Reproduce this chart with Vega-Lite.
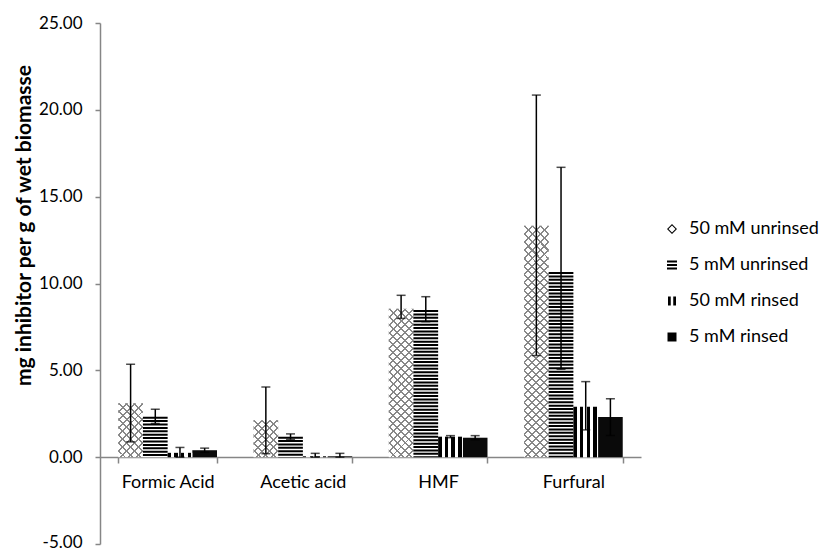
{
  "$schema": "https://vega.github.io/schema/vega-lite/v6.json",
  "width": 541,
  "height": 521,
  "autosize": {"type": "none"},
  "padding": {"left": 100, "top": 23, "right": 182, "bottom": 7},
  "background": "white",
  "config": {"view": {"stroke": null}, "font": "Lato"},
  "data": {
    "values": [
      {"category": "Formic Acid", "series": "50 mM unrinsed", "value": 3.1, "lo": 0.88, "hi": 5.35},
      {"category": "Formic Acid", "series": "5 mM unrinsed", "value": 2.33, "lo": 1.94, "hi": 2.76},
      {"category": "Formic Acid", "series": "50 mM rinsed", "value": 0.25, "lo": 0.0, "hi": 0.56},
      {"category": "Formic Acid", "series": "5 mM rinsed", "value": 0.4, "lo": 0.28, "hi": 0.52},
      {"category": "Acetic acid", "series": "50 mM unrinsed", "value": 2.12, "lo": 0.2, "hi": 4.04},
      {"category": "Acetic acid", "series": "5 mM unrinsed", "value": 1.18, "lo": 1.02, "hi": 1.34},
      {"category": "Acetic acid", "series": "50 mM rinsed", "value": 0.05, "lo": 0.0, "hi": 0.22},
      {"category": "Acetic acid", "series": "5 mM rinsed", "value": 0.05, "lo": 0.0, "hi": 0.22},
      {"category": "HMF", "series": "50 mM unrinsed", "value": 8.55, "lo": 7.99, "hi": 9.32},
      {"category": "HMF", "series": "5 mM unrinsed", "value": 8.47, "lo": 7.8, "hi": 9.24},
      {"category": "HMF", "series": "50 mM rinsed", "value": 1.18, "lo": 1.12, "hi": 1.24},
      {"category": "HMF", "series": "5 mM rinsed", "value": 1.12, "lo": 1.0, "hi": 1.24},
      {"category": "Furfural", "series": "50 mM unrinsed", "value": 13.33, "lo": 5.85, "hi": 20.85},
      {"category": "Furfural", "series": "5 mM unrinsed", "value": 10.66, "lo": 5.06, "hi": 16.69},
      {"category": "Furfural", "series": "50 mM rinsed", "value": 2.91, "lo": 1.57, "hi": 4.35},
      {"category": "Furfural", "series": "5 mM rinsed", "value": 2.31, "lo": 1.25, "hi": 3.37}
    ]
  },
  "encoding": {
    "x": {
      "field": "category",
      "type": "nominal",
      "title": null,
      "scale": {"domain": ["Formic Acid", "Acetic acid", "HMF", "Furfural"], "paddingInner": 0.27, "paddingOuter": 0.135},
      "axis": {
        "orient": "bottom",
        "offset": -87,
        "tickBand": "extent",
        "tickSize": 6,
        "domainColor": "#868686",
        "tickColor": "#868686",
        "domainWidth": 1.5,
        "tickWidth": 1.5,
        "labelAngle": 0,
        "labelFont": "Lato",
        "labelFontSize": 18,
        "labelColor": "#000000",
        "labelPadding": 10
      }
    },
    "xOffset": {
      "field": "series",
      "type": "nominal",
      "scale": {"domain": ["50 mM unrinsed", "5 mM unrinsed", "50 mM rinsed", "5 mM rinsed"], "paddingInner": 0, "paddingOuter": 0}
    },
    "y": {
      "field": "value",
      "type": "quantitative",
      "title": "mg inhibitor per g of wet biomasse",
      "scale": {"domain": [-5, 25], "nice": false, "zero": false},
      "axis": {
        "values": [-5, 0, 5, 10, 15, 20, 25],
        "format": ".2f",
        "labelExpr": "replace(datum.label, '\u2212', '-')",
        "labelOffset": {"condition": {"test": "datum.value === -5", "value": -2}, "value": 0},
        "grid": false,
        "domainColor": "#868686",
        "tickColor": "#868686",
        "domainWidth": 1.5,
        "tickWidth": 1.5,
        "tickSize": 5,
        "labelPadding": 13,
        "labelFont": "Lato",
        "labelFontSize": 17,
        "labelColor": "#000000",
        "titleFont": "Lato",
        "titleFontSize": 21,
        "titleFontWeight": "bold",
        "titleColor": "#000000",
        "titleAngle": -90,
        "titleX": -76,
        "titleY": 202,
        "titleAlign": "center",
        "titleBaseline": "middle"
      }
    }
  },
  "layer": [
    {
      "mark": {"type": "bar", "fill": "#ffffff"},
      "encoding": {"y2": {"datum": 0}}
    },
    {
      "transform": [{"filter": "datum.series === '5 mM rinsed'"}],
      "mark": {"type": "bar", "fill": "#0a0a0a"},
      "encoding": {"y2": {"datum": 0}}
    },
    {
      "transform": [{"filter": "datum.series === '50 mM unrinsed' && datum.category === 'Formic Acid'"}],
      "mark": {"type": "bar", "fill": {"gradient": "linear", "x1": 0, "y1": 0, "x2": 0.551, "y2": 1.205, "stops": [
        {"offset": 0, "color": "#888"}, {"offset": 0.025, "color": "#888"}, {"offset": 0.025, "color": "rgba(136,136,136,0)"}, {"offset": 0.1, "color": "rgba(136,136,136,0)"},
        {"offset": 0.1, "color": "#888"}, {"offset": 0.125, "color": "#888"}, {"offset": 0.125, "color": "rgba(136,136,136,0)"}, {"offset": 0.2, "color": "rgba(136,136,136,0)"},
        {"offset": 0.2, "color": "#888"}, {"offset": 0.225, "color": "#888"}, {"offset": 0.225, "color": "rgba(136,136,136,0)"}, {"offset": 0.3, "color": "rgba(136,136,136,0)"},
        {"offset": 0.3, "color": "#888"}, {"offset": 0.325, "color": "#888"}, {"offset": 0.325, "color": "rgba(136,136,136,0)"}, {"offset": 0.4, "color": "rgba(136,136,136,0)"},
        {"offset": 0.4, "color": "#888"}, {"offset": 0.425, "color": "#888"}, {"offset": 0.425, "color": "rgba(136,136,136,0)"}, {"offset": 0.5, "color": "rgba(136,136,136,0)"},
        {"offset": 0.5, "color": "#888"}, {"offset": 0.525, "color": "#888"}, {"offset": 0.525, "color": "rgba(136,136,136,0)"}, {"offset": 0.6, "color": "rgba(136,136,136,0)"},
        {"offset": 0.6, "color": "#888"}, {"offset": 0.625, "color": "#888"}, {"offset": 0.625, "color": "rgba(136,136,136,0)"}, {"offset": 0.7, "color": "rgba(136,136,136,0)"},
        {"offset": 0.7, "color": "#888"}, {"offset": 0.725, "color": "#888"}, {"offset": 0.725, "color": "rgba(136,136,136,0)"}, {"offset": 0.8, "color": "rgba(136,136,136,0)"},
        {"offset": 0.8, "color": "#888"}, {"offset": 0.825, "color": "#888"}, {"offset": 0.825, "color": "rgba(136,136,136,0)"}, {"offset": 0.9, "color": "rgba(136,136,136,0)"},
        {"offset": 0.9, "color": "#888"}, {"offset": 0.925, "color": "#888"}, {"offset": 0.925, "color": "rgba(136,136,136,0)"}, {"offset": 1, "color": "rgba(136,136,136,0)"}
      ]}},
      "encoding": {"y2": {"datum": 0}}
    },
    {
      "transform": [{"filter": "datum.series === '50 mM unrinsed' && datum.category === 'Formic Acid'"}],
      "mark": {"type": "bar", "fill": {"gradient": "linear", "x1": 1, "y1": 0, "x2": 0.449, "y2": 1.205, "stops": [
        {"offset": 0, "color": "#888"}, {"offset": 0.025, "color": "#888"}, {"offset": 0.025, "color": "rgba(136,136,136,0)"}, {"offset": 0.1, "color": "rgba(136,136,136,0)"},
        {"offset": 0.1, "color": "#888"}, {"offset": 0.125, "color": "#888"}, {"offset": 0.125, "color": "rgba(136,136,136,0)"}, {"offset": 0.2, "color": "rgba(136,136,136,0)"},
        {"offset": 0.2, "color": "#888"}, {"offset": 0.225, "color": "#888"}, {"offset": 0.225, "color": "rgba(136,136,136,0)"}, {"offset": 0.3, "color": "rgba(136,136,136,0)"},
        {"offset": 0.3, "color": "#888"}, {"offset": 0.325, "color": "#888"}, {"offset": 0.325, "color": "rgba(136,136,136,0)"}, {"offset": 0.4, "color": "rgba(136,136,136,0)"},
        {"offset": 0.4, "color": "#888"}, {"offset": 0.425, "color": "#888"}, {"offset": 0.425, "color": "rgba(136,136,136,0)"}, {"offset": 0.5, "color": "rgba(136,136,136,0)"},
        {"offset": 0.5, "color": "#888"}, {"offset": 0.525, "color": "#888"}, {"offset": 0.525, "color": "rgba(136,136,136,0)"}, {"offset": 0.6, "color": "rgba(136,136,136,0)"},
        {"offset": 0.6, "color": "#888"}, {"offset": 0.625, "color": "#888"}, {"offset": 0.625, "color": "rgba(136,136,136,0)"}, {"offset": 0.7, "color": "rgba(136,136,136,0)"},
        {"offset": 0.7, "color": "#888"}, {"offset": 0.725, "color": "#888"}, {"offset": 0.725, "color": "rgba(136,136,136,0)"}, {"offset": 0.8, "color": "rgba(136,136,136,0)"},
        {"offset": 0.8, "color": "#888"}, {"offset": 0.825, "color": "#888"}, {"offset": 0.825, "color": "rgba(136,136,136,0)"}, {"offset": 0.9, "color": "rgba(136,136,136,0)"},
        {"offset": 0.9, "color": "#888"}, {"offset": 0.925, "color": "#888"}, {"offset": 0.925, "color": "rgba(136,136,136,0)"}, {"offset": 1, "color": "rgba(136,136,136,0)"}
      ]}},
      "encoding": {"y2": {"datum": 0}}
    },
    {
      "transform": [{"filter": "datum.series === '50 mM unrinsed' && datum.category === 'Acetic acid'"}],
      "mark": {"type": "bar", "fill": {"gradient": "linear", "x1": 0, "y1": 0, "x2": 0.77, "y2": 1.1535, "stops": [
        {"offset": 0, "color": "#888"}, {"offset": 0.03125, "color": "#888"}, {"offset": 0.03125, "color": "rgba(136,136,136,0)"}, {"offset": 0.125, "color": "rgba(136,136,136,0)"},
        {"offset": 0.125, "color": "#888"}, {"offset": 0.15625, "color": "#888"}, {"offset": 0.15625, "color": "rgba(136,136,136,0)"}, {"offset": 0.25, "color": "rgba(136,136,136,0)"},
        {"offset": 0.25, "color": "#888"}, {"offset": 0.28125, "color": "#888"}, {"offset": 0.28125, "color": "rgba(136,136,136,0)"}, {"offset": 0.375, "color": "rgba(136,136,136,0)"},
        {"offset": 0.375, "color": "#888"}, {"offset": 0.40625, "color": "#888"}, {"offset": 0.40625, "color": "rgba(136,136,136,0)"}, {"offset": 0.5, "color": "rgba(136,136,136,0)"},
        {"offset": 0.5, "color": "#888"}, {"offset": 0.53125, "color": "#888"}, {"offset": 0.53125, "color": "rgba(136,136,136,0)"}, {"offset": 0.625, "color": "rgba(136,136,136,0)"},
        {"offset": 0.625, "color": "#888"}, {"offset": 0.65625, "color": "#888"}, {"offset": 0.65625, "color": "rgba(136,136,136,0)"}, {"offset": 0.75, "color": "rgba(136,136,136,0)"},
        {"offset": 0.75, "color": "#888"}, {"offset": 0.78125, "color": "#888"}, {"offset": 0.78125, "color": "rgba(136,136,136,0)"}, {"offset": 0.875, "color": "rgba(136,136,136,0)"},
        {"offset": 0.875, "color": "#888"}, {"offset": 0.90625, "color": "#888"}, {"offset": 0.90625, "color": "rgba(136,136,136,0)"}, {"offset": 1, "color": "rgba(136,136,136,0)"}
      ]}},
      "encoding": {"y2": {"datum": 0}}
    },
    {
      "transform": [{"filter": "datum.series === '50 mM unrinsed' && datum.category === 'Acetic acid'"}],
      "mark": {"type": "bar", "fill": {"gradient": "linear", "x1": 1, "y1": 0, "x2": 0.23, "y2": 1.1535, "stops": [
        {"offset": 0, "color": "#888"}, {"offset": 0.03125, "color": "#888"}, {"offset": 0.03125, "color": "rgba(136,136,136,0)"}, {"offset": 0.125, "color": "rgba(136,136,136,0)"},
        {"offset": 0.125, "color": "#888"}, {"offset": 0.15625, "color": "#888"}, {"offset": 0.15625, "color": "rgba(136,136,136,0)"}, {"offset": 0.25, "color": "rgba(136,136,136,0)"},
        {"offset": 0.25, "color": "#888"}, {"offset": 0.28125, "color": "#888"}, {"offset": 0.28125, "color": "rgba(136,136,136,0)"}, {"offset": 0.375, "color": "rgba(136,136,136,0)"},
        {"offset": 0.375, "color": "#888"}, {"offset": 0.40625, "color": "#888"}, {"offset": 0.40625, "color": "rgba(136,136,136,0)"}, {"offset": 0.5, "color": "rgba(136,136,136,0)"},
        {"offset": 0.5, "color": "#888"}, {"offset": 0.53125, "color": "#888"}, {"offset": 0.53125, "color": "rgba(136,136,136,0)"}, {"offset": 0.625, "color": "rgba(136,136,136,0)"},
        {"offset": 0.625, "color": "#888"}, {"offset": 0.65625, "color": "#888"}, {"offset": 0.65625, "color": "rgba(136,136,136,0)"}, {"offset": 0.75, "color": "rgba(136,136,136,0)"},
        {"offset": 0.75, "color": "#888"}, {"offset": 0.78125, "color": "#888"}, {"offset": 0.78125, "color": "rgba(136,136,136,0)"}, {"offset": 0.875, "color": "rgba(136,136,136,0)"},
        {"offset": 0.875, "color": "#888"}, {"offset": 0.90625, "color": "#888"}, {"offset": 0.90625, "color": "rgba(136,136,136,0)"}, {"offset": 1, "color": "rgba(136,136,136,0)"}
      ]}},
      "encoding": {"y2": {"datum": 0}}
    },
    {
      "transform": [{"filter": "datum.series === '50 mM unrinsed' && datum.category === 'HMF'"}],
      "mark": {"type": "bar", "fill": {"gradient": "linear", "x1": 0, "y1": 0, "x2": 0.1887, "y2": 1.135, "stops": [
        {"offset": 0, "color": "#888"}, {"offset": 0.0114, "color": "#888"}, {"offset": 0.0114, "color": "rgba(136,136,136,0)"}, {"offset": 0.0455, "color": "rgba(136,136,136,0)"},
        {"offset": 0.0455, "color": "#888"}, {"offset": 0.0568, "color": "#888"}, {"offset": 0.0568, "color": "rgba(136,136,136,0)"}, {"offset": 0.0909, "color": "rgba(136,136,136,0)"},
        {"offset": 0.0909, "color": "#888"}, {"offset": 0.1023, "color": "#888"}, {"offset": 0.1023, "color": "rgba(136,136,136,0)"}, {"offset": 0.1364, "color": "rgba(136,136,136,0)"},
        {"offset": 0.1364, "color": "#888"}, {"offset": 0.1477, "color": "#888"}, {"offset": 0.1477, "color": "rgba(136,136,136,0)"}, {"offset": 0.1818, "color": "rgba(136,136,136,0)"},
        {"offset": 0.1818, "color": "#888"}, {"offset": 0.1932, "color": "#888"}, {"offset": 0.1932, "color": "rgba(136,136,136,0)"}, {"offset": 0.2273, "color": "rgba(136,136,136,0)"},
        {"offset": 0.2273, "color": "#888"}, {"offset": 0.2386, "color": "#888"}, {"offset": 0.2386, "color": "rgba(136,136,136,0)"}, {"offset": 0.2727, "color": "rgba(136,136,136,0)"},
        {"offset": 0.2727, "color": "#888"}, {"offset": 0.2841, "color": "#888"}, {"offset": 0.2841, "color": "rgba(136,136,136,0)"}, {"offset": 0.3182, "color": "rgba(136,136,136,0)"},
        {"offset": 0.3182, "color": "#888"}, {"offset": 0.3295, "color": "#888"}, {"offset": 0.3295, "color": "rgba(136,136,136,0)"}, {"offset": 0.3636, "color": "rgba(136,136,136,0)"},
        {"offset": 0.3636, "color": "#888"}, {"offset": 0.375, "color": "#888"}, {"offset": 0.375, "color": "rgba(136,136,136,0)"}, {"offset": 0.4091, "color": "rgba(136,136,136,0)"},
        {"offset": 0.4091, "color": "#888"}, {"offset": 0.4205, "color": "#888"}, {"offset": 0.4205, "color": "rgba(136,136,136,0)"}, {"offset": 0.4545, "color": "rgba(136,136,136,0)"},
        {"offset": 0.4545, "color": "#888"}, {"offset": 0.4659, "color": "#888"}, {"offset": 0.4659, "color": "rgba(136,136,136,0)"}, {"offset": 0.5, "color": "rgba(136,136,136,0)"},
        {"offset": 0.5, "color": "#888"}, {"offset": 0.5114, "color": "#888"}, {"offset": 0.5114, "color": "rgba(136,136,136,0)"}, {"offset": 0.5455, "color": "rgba(136,136,136,0)"},
        {"offset": 0.5455, "color": "#888"}, {"offset": 0.5568, "color": "#888"}, {"offset": 0.5568, "color": "rgba(136,136,136,0)"}, {"offset": 0.5909, "color": "rgba(136,136,136,0)"},
        {"offset": 0.5909, "color": "#888"}, {"offset": 0.6023, "color": "#888"}, {"offset": 0.6023, "color": "rgba(136,136,136,0)"}, {"offset": 0.6364, "color": "rgba(136,136,136,0)"},
        {"offset": 0.6364, "color": "#888"}, {"offset": 0.6477, "color": "#888"}, {"offset": 0.6477, "color": "rgba(136,136,136,0)"}, {"offset": 0.6818, "color": "rgba(136,136,136,0)"},
        {"offset": 0.6818, "color": "#888"}, {"offset": 0.6932, "color": "#888"}, {"offset": 0.6932, "color": "rgba(136,136,136,0)"}, {"offset": 0.7273, "color": "rgba(136,136,136,0)"},
        {"offset": 0.7273, "color": "#888"}, {"offset": 0.7386, "color": "#888"}, {"offset": 0.7386, "color": "rgba(136,136,136,0)"}, {"offset": 0.7727, "color": "rgba(136,136,136,0)"},
        {"offset": 0.7727, "color": "#888"}, {"offset": 0.7841, "color": "#888"}, {"offset": 0.7841, "color": "rgba(136,136,136,0)"}, {"offset": 0.8182, "color": "rgba(136,136,136,0)"},
        {"offset": 0.8182, "color": "#888"}, {"offset": 0.8295, "color": "#888"}, {"offset": 0.8295, "color": "rgba(136,136,136,0)"}, {"offset": 0.8636, "color": "rgba(136,136,136,0)"},
        {"offset": 0.8636, "color": "#888"}, {"offset": 0.875, "color": "#888"}, {"offset": 0.875, "color": "rgba(136,136,136,0)"}, {"offset": 0.9091, "color": "rgba(136,136,136,0)"},
        {"offset": 0.9091, "color": "#888"}, {"offset": 0.9205, "color": "#888"}, {"offset": 0.9205, "color": "rgba(136,136,136,0)"}, {"offset": 0.9545, "color": "rgba(136,136,136,0)"},
        {"offset": 0.9545, "color": "#888"}, {"offset": 0.9659, "color": "#888"}, {"offset": 0.9659, "color": "rgba(136,136,136,0)"}, {"offset": 1, "color": "rgba(136,136,136,0)"}
      ]}},
      "encoding": {"y2": {"datum": 0}}
    },
    {
      "transform": [{"filter": "datum.series === '50 mM unrinsed' && datum.category === 'HMF'"}],
      "mark": {"type": "bar", "fill": {"gradient": "linear", "x1": 1, "y1": 0, "x2": 0.8113, "y2": 1.135, "stops": [
        {"offset": 0, "color": "#888"}, {"offset": 0.0114, "color": "#888"}, {"offset": 0.0114, "color": "rgba(136,136,136,0)"}, {"offset": 0.0455, "color": "rgba(136,136,136,0)"},
        {"offset": 0.0455, "color": "#888"}, {"offset": 0.0568, "color": "#888"}, {"offset": 0.0568, "color": "rgba(136,136,136,0)"}, {"offset": 0.0909, "color": "rgba(136,136,136,0)"},
        {"offset": 0.0909, "color": "#888"}, {"offset": 0.1023, "color": "#888"}, {"offset": 0.1023, "color": "rgba(136,136,136,0)"}, {"offset": 0.1364, "color": "rgba(136,136,136,0)"},
        {"offset": 0.1364, "color": "#888"}, {"offset": 0.1477, "color": "#888"}, {"offset": 0.1477, "color": "rgba(136,136,136,0)"}, {"offset": 0.1818, "color": "rgba(136,136,136,0)"},
        {"offset": 0.1818, "color": "#888"}, {"offset": 0.1932, "color": "#888"}, {"offset": 0.1932, "color": "rgba(136,136,136,0)"}, {"offset": 0.2273, "color": "rgba(136,136,136,0)"},
        {"offset": 0.2273, "color": "#888"}, {"offset": 0.2386, "color": "#888"}, {"offset": 0.2386, "color": "rgba(136,136,136,0)"}, {"offset": 0.2727, "color": "rgba(136,136,136,0)"},
        {"offset": 0.2727, "color": "#888"}, {"offset": 0.2841, "color": "#888"}, {"offset": 0.2841, "color": "rgba(136,136,136,0)"}, {"offset": 0.3182, "color": "rgba(136,136,136,0)"},
        {"offset": 0.3182, "color": "#888"}, {"offset": 0.3295, "color": "#888"}, {"offset": 0.3295, "color": "rgba(136,136,136,0)"}, {"offset": 0.3636, "color": "rgba(136,136,136,0)"},
        {"offset": 0.3636, "color": "#888"}, {"offset": 0.375, "color": "#888"}, {"offset": 0.375, "color": "rgba(136,136,136,0)"}, {"offset": 0.4091, "color": "rgba(136,136,136,0)"},
        {"offset": 0.4091, "color": "#888"}, {"offset": 0.4205, "color": "#888"}, {"offset": 0.4205, "color": "rgba(136,136,136,0)"}, {"offset": 0.4545, "color": "rgba(136,136,136,0)"},
        {"offset": 0.4545, "color": "#888"}, {"offset": 0.4659, "color": "#888"}, {"offset": 0.4659, "color": "rgba(136,136,136,0)"}, {"offset": 0.5, "color": "rgba(136,136,136,0)"},
        {"offset": 0.5, "color": "#888"}, {"offset": 0.5114, "color": "#888"}, {"offset": 0.5114, "color": "rgba(136,136,136,0)"}, {"offset": 0.5455, "color": "rgba(136,136,136,0)"},
        {"offset": 0.5455, "color": "#888"}, {"offset": 0.5568, "color": "#888"}, {"offset": 0.5568, "color": "rgba(136,136,136,0)"}, {"offset": 0.5909, "color": "rgba(136,136,136,0)"},
        {"offset": 0.5909, "color": "#888"}, {"offset": 0.6023, "color": "#888"}, {"offset": 0.6023, "color": "rgba(136,136,136,0)"}, {"offset": 0.6364, "color": "rgba(136,136,136,0)"},
        {"offset": 0.6364, "color": "#888"}, {"offset": 0.6477, "color": "#888"}, {"offset": 0.6477, "color": "rgba(136,136,136,0)"}, {"offset": 0.6818, "color": "rgba(136,136,136,0)"},
        {"offset": 0.6818, "color": "#888"}, {"offset": 0.6932, "color": "#888"}, {"offset": 0.6932, "color": "rgba(136,136,136,0)"}, {"offset": 0.7273, "color": "rgba(136,136,136,0)"},
        {"offset": 0.7273, "color": "#888"}, {"offset": 0.7386, "color": "#888"}, {"offset": 0.7386, "color": "rgba(136,136,136,0)"}, {"offset": 0.7727, "color": "rgba(136,136,136,0)"},
        {"offset": 0.7727, "color": "#888"}, {"offset": 0.7841, "color": "#888"}, {"offset": 0.7841, "color": "rgba(136,136,136,0)"}, {"offset": 0.8182, "color": "rgba(136,136,136,0)"},
        {"offset": 0.8182, "color": "#888"}, {"offset": 0.8295, "color": "#888"}, {"offset": 0.8295, "color": "rgba(136,136,136,0)"}, {"offset": 0.8636, "color": "rgba(136,136,136,0)"},
        {"offset": 0.8636, "color": "#888"}, {"offset": 0.875, "color": "#888"}, {"offset": 0.875, "color": "rgba(136,136,136,0)"}, {"offset": 0.9091, "color": "rgba(136,136,136,0)"},
        {"offset": 0.9091, "color": "#888"}, {"offset": 0.9205, "color": "#888"}, {"offset": 0.9205, "color": "rgba(136,136,136,0)"}, {"offset": 0.9545, "color": "rgba(136,136,136,0)"},
        {"offset": 0.9545, "color": "#888"}, {"offset": 0.9659, "color": "#888"}, {"offset": 0.9659, "color": "rgba(136,136,136,0)"}, {"offset": 1, "color": "rgba(136,136,136,0)"}
      ]}},
      "encoding": {"y2": {"datum": 0}}
    },
    {
      "transform": [{"filter": "datum.series === '50 mM unrinsed' && datum.category === 'Furfural'"}],
      "mark": {"type": "bar", "fill": {"gradient": "linear", "x1": 0, "y1": 0, "x2": 0.1168, "y2": 1.0943, "stops": [
        {"offset": 0, "color": "#888"}, {"offset": 0.0078, "color": "#888"}, {"offset": 0.0078, "color": "rgba(136,136,136,0)"}, {"offset": 0.03125, "color": "rgba(136,136,136,0)"},
        {"offset": 0.03125, "color": "#888"}, {"offset": 0.0391, "color": "#888"}, {"offset": 0.0391, "color": "rgba(136,136,136,0)"}, {"offset": 0.0625, "color": "rgba(136,136,136,0)"},
        {"offset": 0.0625, "color": "#888"}, {"offset": 0.0703, "color": "#888"}, {"offset": 0.0703, "color": "rgba(136,136,136,0)"}, {"offset": 0.09375, "color": "rgba(136,136,136,0)"},
        {"offset": 0.09375, "color": "#888"}, {"offset": 0.1016, "color": "#888"}, {"offset": 0.1016, "color": "rgba(136,136,136,0)"}, {"offset": 0.125, "color": "rgba(136,136,136,0)"},
        {"offset": 0.125, "color": "#888"}, {"offset": 0.1328, "color": "#888"}, {"offset": 0.1328, "color": "rgba(136,136,136,0)"}, {"offset": 0.15625, "color": "rgba(136,136,136,0)"},
        {"offset": 0.15625, "color": "#888"}, {"offset": 0.1641, "color": "#888"}, {"offset": 0.1641, "color": "rgba(136,136,136,0)"}, {"offset": 0.1875, "color": "rgba(136,136,136,0)"},
        {"offset": 0.1875, "color": "#888"}, {"offset": 0.1953, "color": "#888"}, {"offset": 0.1953, "color": "rgba(136,136,136,0)"}, {"offset": 0.21875, "color": "rgba(136,136,136,0)"},
        {"offset": 0.21875, "color": "#888"}, {"offset": 0.2266, "color": "#888"}, {"offset": 0.2266, "color": "rgba(136,136,136,0)"}, {"offset": 0.25, "color": "rgba(136,136,136,0)"},
        {"offset": 0.25, "color": "#888"}, {"offset": 0.2578, "color": "#888"}, {"offset": 0.2578, "color": "rgba(136,136,136,0)"}, {"offset": 0.28125, "color": "rgba(136,136,136,0)"},
        {"offset": 0.28125, "color": "#888"}, {"offset": 0.2891, "color": "#888"}, {"offset": 0.2891, "color": "rgba(136,136,136,0)"}, {"offset": 0.3125, "color": "rgba(136,136,136,0)"},
        {"offset": 0.3125, "color": "#888"}, {"offset": 0.3203, "color": "#888"}, {"offset": 0.3203, "color": "rgba(136,136,136,0)"}, {"offset": 0.34375, "color": "rgba(136,136,136,0)"},
        {"offset": 0.34375, "color": "#888"}, {"offset": 0.3516, "color": "#888"}, {"offset": 0.3516, "color": "rgba(136,136,136,0)"}, {"offset": 0.375, "color": "rgba(136,136,136,0)"},
        {"offset": 0.375, "color": "#888"}, {"offset": 0.3828, "color": "#888"}, {"offset": 0.3828, "color": "rgba(136,136,136,0)"}, {"offset": 0.40625, "color": "rgba(136,136,136,0)"},
        {"offset": 0.40625, "color": "#888"}, {"offset": 0.4141, "color": "#888"}, {"offset": 0.4141, "color": "rgba(136,136,136,0)"}, {"offset": 0.4375, "color": "rgba(136,136,136,0)"},
        {"offset": 0.4375, "color": "#888"}, {"offset": 0.4453, "color": "#888"}, {"offset": 0.4453, "color": "rgba(136,136,136,0)"}, {"offset": 0.46875, "color": "rgba(136,136,136,0)"},
        {"offset": 0.46875, "color": "#888"}, {"offset": 0.4766, "color": "#888"}, {"offset": 0.4766, "color": "rgba(136,136,136,0)"}, {"offset": 0.5, "color": "rgba(136,136,136,0)"},
        {"offset": 0.5, "color": "#888"}, {"offset": 0.5078, "color": "#888"}, {"offset": 0.5078, "color": "rgba(136,136,136,0)"}, {"offset": 0.53125, "color": "rgba(136,136,136,0)"},
        {"offset": 0.53125, "color": "#888"}, {"offset": 0.5391, "color": "#888"}, {"offset": 0.5391, "color": "rgba(136,136,136,0)"}, {"offset": 0.5625, "color": "rgba(136,136,136,0)"},
        {"offset": 0.5625, "color": "#888"}, {"offset": 0.5703, "color": "#888"}, {"offset": 0.5703, "color": "rgba(136,136,136,0)"}, {"offset": 0.59375, "color": "rgba(136,136,136,0)"},
        {"offset": 0.59375, "color": "#888"}, {"offset": 0.6016, "color": "#888"}, {"offset": 0.6016, "color": "rgba(136,136,136,0)"}, {"offset": 0.625, "color": "rgba(136,136,136,0)"},
        {"offset": 0.625, "color": "#888"}, {"offset": 0.6328, "color": "#888"}, {"offset": 0.6328, "color": "rgba(136,136,136,0)"}, {"offset": 0.65625, "color": "rgba(136,136,136,0)"},
        {"offset": 0.65625, "color": "#888"}, {"offset": 0.6641, "color": "#888"}, {"offset": 0.6641, "color": "rgba(136,136,136,0)"}, {"offset": 0.6875, "color": "rgba(136,136,136,0)"},
        {"offset": 0.6875, "color": "#888"}, {"offset": 0.6953, "color": "#888"}, {"offset": 0.6953, "color": "rgba(136,136,136,0)"}, {"offset": 0.71875, "color": "rgba(136,136,136,0)"},
        {"offset": 0.71875, "color": "#888"}, {"offset": 0.7266, "color": "#888"}, {"offset": 0.7266, "color": "rgba(136,136,136,0)"}, {"offset": 0.75, "color": "rgba(136,136,136,0)"},
        {"offset": 0.75, "color": "#888"}, {"offset": 0.7578, "color": "#888"}, {"offset": 0.7578, "color": "rgba(136,136,136,0)"}, {"offset": 0.78125, "color": "rgba(136,136,136,0)"},
        {"offset": 0.78125, "color": "#888"}, {"offset": 0.7891, "color": "#888"}, {"offset": 0.7891, "color": "rgba(136,136,136,0)"}, {"offset": 0.8125, "color": "rgba(136,136,136,0)"},
        {"offset": 0.8125, "color": "#888"}, {"offset": 0.8203, "color": "#888"}, {"offset": 0.8203, "color": "rgba(136,136,136,0)"}, {"offset": 0.84375, "color": "rgba(136,136,136,0)"},
        {"offset": 0.84375, "color": "#888"}, {"offset": 0.8516, "color": "#888"}, {"offset": 0.8516, "color": "rgba(136,136,136,0)"}, {"offset": 0.875, "color": "rgba(136,136,136,0)"},
        {"offset": 0.875, "color": "#888"}, {"offset": 0.8828, "color": "#888"}, {"offset": 0.8828, "color": "rgba(136,136,136,0)"}, {"offset": 0.90625, "color": "rgba(136,136,136,0)"},
        {"offset": 0.90625, "color": "#888"}, {"offset": 0.9141, "color": "#888"}, {"offset": 0.9141, "color": "rgba(136,136,136,0)"}, {"offset": 0.9375, "color": "rgba(136,136,136,0)"},
        {"offset": 0.9375, "color": "#888"}, {"offset": 0.9453, "color": "#888"}, {"offset": 0.9453, "color": "rgba(136,136,136,0)"}, {"offset": 0.96875, "color": "rgba(136,136,136,0)"},
        {"offset": 0.96875, "color": "#888"}, {"offset": 0.9766, "color": "#888"}, {"offset": 0.9766, "color": "rgba(136,136,136,0)"}, {"offset": 1, "color": "rgba(136,136,136,0)"}
      ]}},
      "encoding": {"y2": {"datum": 0}}
    },
    {
      "transform": [{"filter": "datum.series === '50 mM unrinsed' && datum.category === 'Furfural'"}],
      "mark": {"type": "bar", "fill": {"gradient": "linear", "x1": 1, "y1": 0, "x2": 0.8832, "y2": 1.0943, "stops": [
        {"offset": 0, "color": "#888"}, {"offset": 0.0078, "color": "#888"}, {"offset": 0.0078, "color": "rgba(136,136,136,0)"}, {"offset": 0.03125, "color": "rgba(136,136,136,0)"},
        {"offset": 0.03125, "color": "#888"}, {"offset": 0.0391, "color": "#888"}, {"offset": 0.0391, "color": "rgba(136,136,136,0)"}, {"offset": 0.0625, "color": "rgba(136,136,136,0)"},
        {"offset": 0.0625, "color": "#888"}, {"offset": 0.0703, "color": "#888"}, {"offset": 0.0703, "color": "rgba(136,136,136,0)"}, {"offset": 0.09375, "color": "rgba(136,136,136,0)"},
        {"offset": 0.09375, "color": "#888"}, {"offset": 0.1016, "color": "#888"}, {"offset": 0.1016, "color": "rgba(136,136,136,0)"}, {"offset": 0.125, "color": "rgba(136,136,136,0)"},
        {"offset": 0.125, "color": "#888"}, {"offset": 0.1328, "color": "#888"}, {"offset": 0.1328, "color": "rgba(136,136,136,0)"}, {"offset": 0.15625, "color": "rgba(136,136,136,0)"},
        {"offset": 0.15625, "color": "#888"}, {"offset": 0.1641, "color": "#888"}, {"offset": 0.1641, "color": "rgba(136,136,136,0)"}, {"offset": 0.1875, "color": "rgba(136,136,136,0)"},
        {"offset": 0.1875, "color": "#888"}, {"offset": 0.1953, "color": "#888"}, {"offset": 0.1953, "color": "rgba(136,136,136,0)"}, {"offset": 0.21875, "color": "rgba(136,136,136,0)"},
        {"offset": 0.21875, "color": "#888"}, {"offset": 0.2266, "color": "#888"}, {"offset": 0.2266, "color": "rgba(136,136,136,0)"}, {"offset": 0.25, "color": "rgba(136,136,136,0)"},
        {"offset": 0.25, "color": "#888"}, {"offset": 0.2578, "color": "#888"}, {"offset": 0.2578, "color": "rgba(136,136,136,0)"}, {"offset": 0.28125, "color": "rgba(136,136,136,0)"},
        {"offset": 0.28125, "color": "#888"}, {"offset": 0.2891, "color": "#888"}, {"offset": 0.2891, "color": "rgba(136,136,136,0)"}, {"offset": 0.3125, "color": "rgba(136,136,136,0)"},
        {"offset": 0.3125, "color": "#888"}, {"offset": 0.3203, "color": "#888"}, {"offset": 0.3203, "color": "rgba(136,136,136,0)"}, {"offset": 0.34375, "color": "rgba(136,136,136,0)"},
        {"offset": 0.34375, "color": "#888"}, {"offset": 0.3516, "color": "#888"}, {"offset": 0.3516, "color": "rgba(136,136,136,0)"}, {"offset": 0.375, "color": "rgba(136,136,136,0)"},
        {"offset": 0.375, "color": "#888"}, {"offset": 0.3828, "color": "#888"}, {"offset": 0.3828, "color": "rgba(136,136,136,0)"}, {"offset": 0.40625, "color": "rgba(136,136,136,0)"},
        {"offset": 0.40625, "color": "#888"}, {"offset": 0.4141, "color": "#888"}, {"offset": 0.4141, "color": "rgba(136,136,136,0)"}, {"offset": 0.4375, "color": "rgba(136,136,136,0)"},
        {"offset": 0.4375, "color": "#888"}, {"offset": 0.4453, "color": "#888"}, {"offset": 0.4453, "color": "rgba(136,136,136,0)"}, {"offset": 0.46875, "color": "rgba(136,136,136,0)"},
        {"offset": 0.46875, "color": "#888"}, {"offset": 0.4766, "color": "#888"}, {"offset": 0.4766, "color": "rgba(136,136,136,0)"}, {"offset": 0.5, "color": "rgba(136,136,136,0)"},
        {"offset": 0.5, "color": "#888"}, {"offset": 0.5078, "color": "#888"}, {"offset": 0.5078, "color": "rgba(136,136,136,0)"}, {"offset": 0.53125, "color": "rgba(136,136,136,0)"},
        {"offset": 0.53125, "color": "#888"}, {"offset": 0.5391, "color": "#888"}, {"offset": 0.5391, "color": "rgba(136,136,136,0)"}, {"offset": 0.5625, "color": "rgba(136,136,136,0)"},
        {"offset": 0.5625, "color": "#888"}, {"offset": 0.5703, "color": "#888"}, {"offset": 0.5703, "color": "rgba(136,136,136,0)"}, {"offset": 0.59375, "color": "rgba(136,136,136,0)"},
        {"offset": 0.59375, "color": "#888"}, {"offset": 0.6016, "color": "#888"}, {"offset": 0.6016, "color": "rgba(136,136,136,0)"}, {"offset": 0.625, "color": "rgba(136,136,136,0)"},
        {"offset": 0.625, "color": "#888"}, {"offset": 0.6328, "color": "#888"}, {"offset": 0.6328, "color": "rgba(136,136,136,0)"}, {"offset": 0.65625, "color": "rgba(136,136,136,0)"},
        {"offset": 0.65625, "color": "#888"}, {"offset": 0.6641, "color": "#888"}, {"offset": 0.6641, "color": "rgba(136,136,136,0)"}, {"offset": 0.6875, "color": "rgba(136,136,136,0)"},
        {"offset": 0.6875, "color": "#888"}, {"offset": 0.6953, "color": "#888"}, {"offset": 0.6953, "color": "rgba(136,136,136,0)"}, {"offset": 0.71875, "color": "rgba(136,136,136,0)"},
        {"offset": 0.71875, "color": "#888"}, {"offset": 0.7266, "color": "#888"}, {"offset": 0.7266, "color": "rgba(136,136,136,0)"}, {"offset": 0.75, "color": "rgba(136,136,136,0)"},
        {"offset": 0.75, "color": "#888"}, {"offset": 0.7578, "color": "#888"}, {"offset": 0.7578, "color": "rgba(136,136,136,0)"}, {"offset": 0.78125, "color": "rgba(136,136,136,0)"},
        {"offset": 0.78125, "color": "#888"}, {"offset": 0.7891, "color": "#888"}, {"offset": 0.7891, "color": "rgba(136,136,136,0)"}, {"offset": 0.8125, "color": "rgba(136,136,136,0)"},
        {"offset": 0.8125, "color": "#888"}, {"offset": 0.8203, "color": "#888"}, {"offset": 0.8203, "color": "rgba(136,136,136,0)"}, {"offset": 0.84375, "color": "rgba(136,136,136,0)"},
        {"offset": 0.84375, "color": "#888"}, {"offset": 0.8516, "color": "#888"}, {"offset": 0.8516, "color": "rgba(136,136,136,0)"}, {"offset": 0.875, "color": "rgba(136,136,136,0)"},
        {"offset": 0.875, "color": "#888"}, {"offset": 0.8828, "color": "#888"}, {"offset": 0.8828, "color": "rgba(136,136,136,0)"}, {"offset": 0.90625, "color": "rgba(136,136,136,0)"},
        {"offset": 0.90625, "color": "#888"}, {"offset": 0.9141, "color": "#888"}, {"offset": 0.9141, "color": "rgba(136,136,136,0)"}, {"offset": 0.9375, "color": "rgba(136,136,136,0)"},
        {"offset": 0.9375, "color": "#888"}, {"offset": 0.9453, "color": "#888"}, {"offset": 0.9453, "color": "rgba(136,136,136,0)"}, {"offset": 0.96875, "color": "rgba(136,136,136,0)"},
        {"offset": 0.96875, "color": "#888"}, {"offset": 0.9766, "color": "#888"}, {"offset": 0.9766, "color": "rgba(136,136,136,0)"}, {"offset": 1, "color": "rgba(136,136,136,0)"}
      ]}},
      "encoding": {"y2": {"datum": 0}}
    },
    {
      "transform": [{"filter": "datum.series === '5 mM unrinsed'"}],
      "mark": {"type": "rule", "color": "#000000", "strokeWidth": 24.7, "strokeDash": [2, 1.4], "strokeCap": "butt"},
      "encoding": {"y2": {"datum": 0}}
    },
    {
      "transform": [{"filter": "datum.series === '50 mM rinsed'"}],
      "mark": {
        "type": "bar",
        "fill": {
          "gradient": "linear", "x1": 0, "y1": 0, "x2": 1, "y2": 0,
          "stops": [
            {"offset": 0, "color": "#000000"}, {"offset": 0.14, "color": "#000000"},
            {"offset": 0.14, "color": "#ffffff"}, {"offset": 0.27, "color": "#ffffff"},
            {"offset": 0.27, "color": "#000000"}, {"offset": 0.41, "color": "#000000"},
            {"offset": 0.41, "color": "#ffffff"}, {"offset": 0.54, "color": "#ffffff"},
            {"offset": 0.54, "color": "#000000"}, {"offset": 0.68, "color": "#000000"},
            {"offset": 0.68, "color": "#ffffff"}, {"offset": 0.81, "color": "#ffffff"},
            {"offset": 0.81, "color": "#000000"}, {"offset": 0.95, "color": "#000000"},
            {"offset": 0.95, "color": "#ffffff"}, {"offset": 1, "color": "#ffffff"}
          ]
        }
      },
      "encoding": {"y2": {"datum": 0}}
    },
    {
      "mark": {"type": "rule", "color": "#000000", "strokeWidth": 1.5},
      "encoding": {
        "y": {"field": "lo", "type": "quantitative", "title": "mg inhibitor per g of wet biomasse"},
        "y2": {"field": "hi"}
      }
    },
    {
      "mark": {"type": "tick", "orient": "horizontal", "color": "#000000", "size": 9, "thickness": 1.5},
      "encoding": {
        "y": {"field": "hi", "type": "quantitative", "title": "mg inhibitor per g of wet biomasse"}
      }
    },
    {
      "mark": {"type": "tick", "orient": "horizontal", "color": "#000000", "size": 9, "thickness": 1.5},
      "encoding": {
        "y": {"field": "lo", "type": "quantitative", "title": "mg inhibitor per g of wet biomasse"}
      }
    },
    {
      "mark": {"type": "point", "filled": true, "color": "#000000", "opacity": 0},
      "encoding": {
        "shape": {
          "field": "series",
          "type": "nominal",
          "scale": {
            "domain": ["50 mM unrinsed", "5 mM unrinsed", "50 mM rinsed", "5 mM rinsed"],
            "range": [
              "M0,-1L1,0L0,1L-1,0ZM0,-0.7L-0.7,0L0,0.7L0.7,0Z",
              "M-1,-0.9H1V-0.5H-1ZM-1,-0.2H1V0.2H-1ZM-1,0.5H1V0.9H-1Z",
              "M-0.8,-0.9H-0.25V0.9H-0.8ZM0.25,-0.9H0.8V0.9H0.25Z",
              "M-0.9,-0.9H0.9V0.9H-0.9Z"
            ]
          },
          "legend": {
            "title": null,
            "orient": "none",
            "legendX": 563,
            "legendY": 197,
            "labelFont": "Lato",
            "labelFontSize": 18,
            "labelColor": "#000000",
            "symbolSize": 100,
            "symbolOpacity": 1,
            "symbolFillColor": "#000000",
            "symbolStrokeWidth": 0,
            "rowPadding": 18,
            "labelOffset": 8
          }
        }
      }
    }
  ]
}
